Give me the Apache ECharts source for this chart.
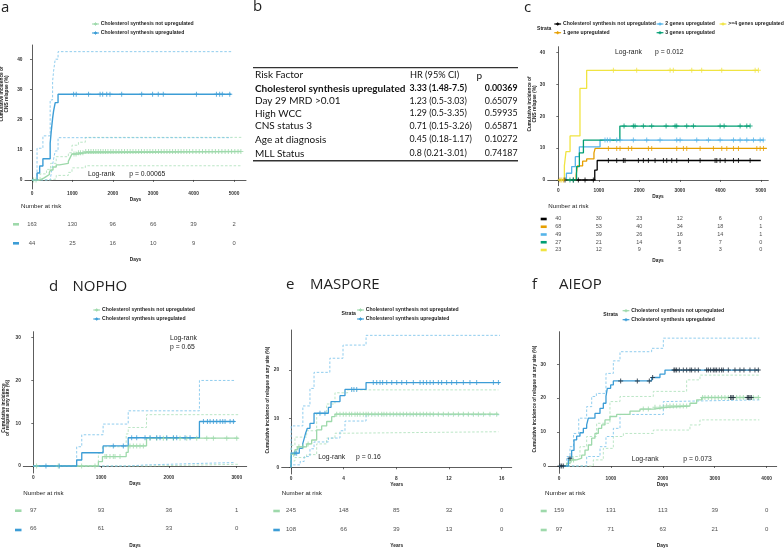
<!DOCTYPE html>
<html><head><meta charset="utf-8">
<script src="https://cdn.jsdelivr.net/npm/echarts@6/dist/echarts.min.js"></script>
<style>html,body{margin:0;padding:0;background:#fff}#c{width:784px;height:549px}</style>
</head><body><div id="c"></div>
<script>
// ---------------- DATA ----------------
// Panel a (days, cumulative incidence %)
const aNo   = [[0,0],[200,0.6],[290,1.2],[360,1.8],[430,2.5],[460,3.3],[520,4.3],[600,5.0],[680,5.5],[900,6.2],[930,7.0],[960,7.8],[990,8.6],[1150,9.0],[1320,9.4],[5180,9.4]];
const aNoHi = [[0,0],[200,2.0],[360,3.5],[460,5.5],[600,7.7],[900,9.0],[990,11.5],[1150,12.5],[1320,14.1],[5180,14.1]];
const aNoLo = [[0,0],[430,0.3],[600,1.5],[900,2.5],[990,4.0],[1320,4.7],[5180,4.7]];
const aUp   = [[0,0],[125,2.3],[190,4.6],[270,7.0],[450,12.2],[475,15.9],[510,20.4],[535,22.9],[575,25.6],[645,28.4],[4930,28.4]];
const aUpHi = [[0,0],[125,10.5],[270,14.6],[450,26.5],[510,32.6],[535,36.1],[575,40.0],[645,42.5],[4930,42.5]];
const aUpLo = [[0,0],[450,0.5],[475,2.0],[510,5.0],[535,7.0],[575,9.6],[645,14.0],[4930,14.0]];
const aNoCens = [40,100,1040,1090,1150,1200,1260,1330,1400,1460,1520,1580,1640,1700,1760,1820,1880,1950,2010,2080,2150,2220,2290,2360,2430,2500,2570,2640,2710,2780,2850,2920,2990,3060,3130,3200,3270,3340,3410,3480,3550,3620,3690,3760,3830,3900,3980,4060,4140,4220,4300,4380,4460,4540,4620,4700,4780,4860,4940,5020,5100,5170];
const aUpCens = [1030,1095,1400,1685,1750,1850,1930,2220,2715,2985,3125,3250,4070,4565,4645,4710,4895];
const aRiskTimes = [0,1000,2000,3000,4000,5000];
const aRiskNo = [163,130,96,66,39,2];
const aRiskUp = [44,25,16,10,9,0];

// Panel b (Cox model table)
const bFactors = ["Cholesterol synthesis upregulated","Day 29 MRD >0.01","High WCC","CNS status 3","Age at diagnosis","MLL Status"];
const bHR = ["3.33 (1.48-7.5)","1.23 (0.5-3.03)","1.29 (0.5-3.35)","0.71 (0.15-3.26)","0.45 (0.18-1.17)","0.8 (0.21-3.01)"];
const bP = ["0.00369","0.65079","0.59935","0.65871","0.10272","0.74187"];

// Panel c
const cNo = [[0,0],[900,3.1],[960,6.1],[5000,6.1]];
const c1  = [[0,0],[440,1.5],[470,4.4],[600,5.9],[700,6.6],[880,8.5],[910,9.9],[5150,9.9]];
const c2  = [[0,0],[200,2.1],[330,4.2],[420,7.3],[520,10.4],[1030,12.5],[5080,12.5]];
const c3  = [[0,0],[450,4.2],[520,8.5],[620,12.5],[1520,16.9],[4740,16.9]];
const c4  = [[0,0],[150,4.5],[190,8.9],[290,13.8],[535,28.7],[700,34.4],[4940,34.4]];
const cNoCens = [165,370,495,660,865,1236,1442,1606,1647,1977,2100,2224,2389,2595,2677,2801,2924,3213,3501,3871,3913,3995,4119,4325,4448,4736];
const c1Cens = [41,124,1236,1442,1524,1730,1812,2224,2306,2924,3089,3171,3501,3830,4036,4160,4325,4448,4901,4984,5066];
const c2Cens = [1153,1211,1277,1442,1524,1853,2183,2512,2924,3007,3418,3707,3995,4325,4489,4654,4819,4984,5060];
const c3Cens = [288,371,1623,1853,1895,2100,2306,2661,2883,2924,3171,3336,3995,4094,4489,4654,4736];
const c4Cens = [82,1360,1935,2760,2840,3295,3540,4035,4860,4940];
const cRiskTimes = [0,1000,2000,3000,4000,5000];
const cRiskNo = [40,30,23,12,6,0];
const cRisk1 = [68,53,40,34,18,1];
const cRisk2 = [49,39,26,16,14,1];
const cRisk3 = [27,21,14,9,7,0];
const cRisk4 = [23,12,9,5,3,0];

// Panel d NOPHO
const dNo   = [[0,0],[960,1.0],[1020,2.2],[1370,3.2],[1400,4.7],[1670,6.5],[3025,6.5]];
const dNoHi = [[0,0],[960,3.0],[1020,4.5],[1370,7.5],[1400,9.0],[1670,12.0],[3025,12.0]];
const dNoLo = [[0,0],[1670,0.4],[3025,0.4]];
const dUp   = [[0,0],[640,1.4],[715,3.1],[1030,4.7],[1400,6.6],[2450,10.4],[2975,10.4]];
const dUpHi = [[0,0],[640,4.5],[715,7.3],[1030,9.8],[1400,12.9],[2450,20.0],[2975,20.0]];
const dUpLo = [[0,0],[1400,0.25],[1660,0.6],[2450,0.8],[2975,0.8]];
const dNoCens = [49,369,713,910,1058,1082,1131,1180,1205,1279,1426,1476,1525,1574,1623,1722,1820,1918,1968,2066,2164,2263,2410,2558,2656,2853,3000];
const dUpCens = [187,384,1180,1328,1451,1525,1648,1722,1820,1869,1968,2066,2115,2238,2312,2509,2568,2607,2656,2705,2755,2794,2828,2902,2951];
const dRiskTimes = [0,1000,2000,3000];
const dRiskNo = [97,93,36,1];
const dRiskUp = [66,61,33,0];

// Panel e MASPORE (years)
const eNo   = [[0,0],[0.02,2.7],[0.3,3.6],[0.48,4.2],[1.19,4.8],[1.57,5.6],[1.95,7.7],[2.33,8.5],[2.71,9.4],[3.09,10.4],[3.34,10.9],[15.75,10.9]];
const eNoHi = [[0,0],[0.02,4.5],[0.3,6.2],[1.19,7.5],[1.95,11.0],[2.71,13.0],[3.34,15.3],[4.3,15.9],[15.75,15.9]];
const eNoLo = [[0,0],[0.02,1.3],[0.3,2.0],[1.19,2.6],[1.95,4.8],[2.71,6.0],[3.34,7.0],[4.3,7.3],[15.75,7.3]];
const eUp   = [[0,0],[0.02,2.9],[0.63,3.9],[0.89,4.8],[1.01,6.0],[1.11,7.0],[1.24,8.0],[1.44,9.0],[1.75,11.1],[2.84,12.3],[3.04,13.5],[3.72,14.7],[4.10,16.0],[5.70,17.4],[15.87,17.4]];
const eUpHi = [[0,0],[0.02,8.5],[0.9,12.6],[1.44,16.2],[1.75,19.5],[2.95,22.4],[3.95,25.1],[5.7,27.1],[15.87,27.1]];
const eUpLo = [[0,0],[0.02,0.5],[0.7,1.2],[1.0,2.2],[1.44,3.8],[1.75,5.2],[2.84,6.0],[3.72,7.5],[4.10,9.5],[5.70,10.8],[15.87,10.8]];
const eNoCens = [0.2,0.6,0.9,1.3,3.47,3.72,3.97,4.18,4.43,4.61,4.86,5.04,5.24,5.49,5.70,5.87,6.13,6.38,6.63,6.89,7.06,7.27,7.52,7.77,8.03,8.28,8.53,8.78,9.04,9.29,9.54,9.80,10.05,10.30,10.56,10.81,11.19,11.57,11.95,12.33,12.71,13.09,13.47,13.85,14.23,14.61,15.11,15.62];
const eUpCens = [0.30,0.43,2.20,2.58,4.61,4.78,4.99,6.25,6.51,6.76,6.96,7.27,7.65,8.03,8.41,8.78,9.29,9.80,10.05,10.30,10.56,10.81,11.19,11.44,11.82,12.20,12.58,13.09,13.59,14.10,15.37,15.75];
const eRiskTimes = [0,4,8,12,16];
const eRiskNo = [245,148,85,32,0];
const eRiskUp = [108,66,39,13,0];

// Panel f AIEOP
const fNo   = [[0,0],[148,0.8],[212,1.8],[340,2.3],[437,3.2],[501,4.7],[565,6.2],[629,8.2],[693,9.6],[758,11.1],[822,12.1],[886,13.6],[982,14.6],[1111,15.2],[1368,16.2],[1560,16.8],[1817,17.3],[2074,17.7],[2523,18.5],[2652,19.5],[2748,20.2],[3860,20.2]];
const fNoHi = [[0,0],[212,2.8],[404,5.7],[533,8.7],[725,12.6],[982,19.0],[1175,20.5],[1817,22.0],[2459,25.4],[2716,26.8],[3860,26.8]];
const fNoLo = [[0,0],[661,1.8],[854,5.2],[1047,8.7],[1240,9.6],[1817,10.6],[2523,12.1],[2716,13.6],[3860,13.6]];
const fUp   = [[0,0],[180,2.3],[244,4.6],[289,7.7],[340,8.8],[404,9.8],[469,11.1],[533,12.1],[565,14.1],[693,15.5],[790,17.0],[854,18.5],[905,20.5],[931,22.9],[995,23.9],[1047,25.1],[1785,26.1],[1945,27.1],[2042,28.3],[3860,28.3]];
const fUpHi = [[0,0],[148,2.8],[212,5.7],[280,9.6],[380,14.1],[533,17.5],[630,20.5],[720,21.4],[905,27.3],[1047,31.0],[1175,33.7],[1785,34.7],[2010,37.7],[3860,37.7]];
const fUpLo = [[0,0],[533,2.8],[790,5.7],[905,8.7],[1047,11.1],[1175,15.2],[2010,19.0],[2060,19.5],[3860,19.5]];
const fNoCens = [240,280,1624,1721,1849,1945,2010,2074,2138,2202,2266,2331,2395,2459,2767,2812,2876,2941,3005,3069,3133,3197,3262,3422,3486,3551,3743,3840];
const fNoCensDark = [3307,3332,3358,3628,3653,3679,3705];
const fUpCens = [19,51,83,212,1188,1509,1740,1804,2215,2234,2266,2318,2395,2459,2523,2555,2620,2684,2844,2876,2921,2973,3005,3037,3088,3133,3165,3262,3390,3486,3563,3679,3775,3840];
const fRiskTimes = [0,1000,2000,3000,4000];
const fRiskNo = [159,131,113,39,0];
const fRiskUp = [97,71,63,21,0];

// ---------------- STYLE ----------------
const FF = '"Liberation Sans", Arial, sans-serif';
const GREEN = '#9ed9ab', BLUE = '#3c9dd6', GREEN_CI = '#a9dfb7', BLUE_CI = '#74c0ea';
const CBLACK = '#000000', CORANGE = '#E69F00', CLBLUE = '#56B4E9', CGREEN = '#009E73', CYELLOW = '#F0E442';
const PLUS = 'path://M4,0H6V4H10V6H6V10H4V6H0V4H4Z';

const grid = [], xAxis = [], yAxis = [], series = [], graphic = [];

function valAt(curve, t) { let v = curve[0][1]; for (const p of curve) { if (p[0] <= t) v = p[1]; else break; } return v; }

function addPlot(g, xr, xt, yr, yt, xname) {
  const gi = grid.length;
  grid.push({ left: g[0], top: g[1], width: g[2], height: g[3] });
  const ax = { lineStyle: { color: '#333', width: 0.8 } };
  const lab = { fontSize: 4.8, fontWeight: 'bold', color: '#333', fontFamily: FF, margin: 2.5, formatter: v => String(v) };
  xAxis.push({ gridIndex: gi, type: 'value', min: xr[0], max: xr[1],
    axisLine: { show: true, ...ax }, splitLine: { show: false },
    axisTick: { show: true, length: 2, customValues: xt, lineStyle: { color: '#333', width: 0.7 } },
    axisLabel: { customValues: xt, ...lab },
    name: xname, nameLocation: 'middle', nameGap: 7, nameTextStyle: { fontSize: 4.8, fontWeight: 'bold', color: '#222', fontFamily: FF } });
  yAxis.push({ gridIndex: gi, type: 'value', min: yr[0], max: yr[1],
    axisLine: { show: true, ...ax }, splitLine: { show: false },
    axisTick: { show: true, length: 2, customValues: yt, lineStyle: { color: '#333', width: 0.7 } },
    axisLabel: { customValues: yt, ...lab } });
  return gi;
}
function stepLine(gi, data, color, dashed, width, z) {
  series.push({ type: 'line', xAxisIndex: gi, yAxisIndex: gi, data: data, step: 'end', symbol: 'none', silent: true,
    animation: false, z: z || 2, lineStyle: { color: color, width: width, type: dashed ? [2.5, 1.8] : 'solid' } });
}
function censors(gi, curve, times, color, size) {
  series.push({ type: 'scatter', xAxisIndex: gi, yAxisIndex: gi, symbol: PLUS, symbolSize: size || 5, silent: true, z: 4,
    itemStyle: { color: color }, data: times.map(t => [t, valAt(curve, t)]) });
}
function addRisk(g, xr, times, rows, xname, fs, nameGap) {
  const gi = grid.length;
  grid.push({ left: g[0], top: g[1], width: g[2], height: g[3] });
  xAxis.push({ gridIndex: gi, type: 'value', min: xr[0], max: xr[1], axisLine: { show: false }, axisTick: { show: false },
    axisLabel: { show: false }, splitLine: { show: false }, name: xname, nameLocation: 'middle', nameGap: nameGap,
    nameTextStyle: { fontSize: 4.8, fontWeight: 'bold', color: '#222', fontFamily: FF } });
  yAxis.push({ gridIndex: gi, type: 'value', min: -0.5, max: rows.length - 0.5, inverse: true, show: false });
  const data = [];
  rows.forEach((r, ri) => times.forEach((t, ti) => data.push([t, ri, r[ti]])));
  series.push({ type: 'scatter', xAxisIndex: gi, yAxisIndex: gi, symbol: 'circle', symbolSize: 1, silent: true,
    itemStyle: { color: 'rgba(0,0,0,0)' }, data: data,
    label: { show: true, position: 'inside', formatter: p => p.value[2], fontSize: fs, color: '#222', fontFamily: FF } });
}
function T(x, y, text, size, o) {
  o = o || {};
  graphic.push({ type: 'text', x: x, y: y, rotation: o.rot || 0, silent: true,
    style: { text: text, fontSize: size, fontFamily: o.ff || FF, fontWeight: o.fw || 'normal', fill: o.fill || '#222',
      textAlign: o.align || 'left', textVerticalAlign: 'middle', lineHeight: o.lh || size * 1.15 } });
}
function R(x, y, w, h, color) { graphic.push({ type: 'rect', silent: true, shape: { x: x, y: y - h / 2, width: w, height: h }, style: { fill: color } }); }
function L(x1, y1, x2, y2, color, w) { graphic.push({ type: 'line', silent: true, shape: { x1, y1, x2, y2 }, style: { stroke: color, lineWidth: w } }); }
function legItem(cx, y, color, text) {
  L(cx - 3.4, y, cx + 3.4, y, color, 1.2); L(cx - 1.5, y, cx + 1.5, y, color, 1.6); L(cx, y - 1.6, cx, y + 1.6, color, 1.0);
  T(cx + 5.3, y, text, 5.1, { fw: 'bold' });
}
const NOT = 'Cholesterol synthesis not upregulated', UP = 'Cholesterol synthesis upregulated';

// ---------------- PANEL a ----------------
let g = addPlot([25, 45, 221, 144], [-173, 5297], aRiskTimes, [-3, 44.7], [0, 10, 20, 30, 40], 'Days');
stepLine(g, aNoLo, GREEN_CI, true, 0.8); stepLine(g, aNoHi, GREEN_CI, true, 0.8);
stepLine(g, aUpLo, BLUE_CI, true, 0.8); stepLine(g, aUpHi, BLUE_CI, true, 0.8);
stepLine(g, aNo, GREEN, false, 1.4, 3); stepLine(g, aUp, BLUE, false, 1.4, 3);
censors(g, aNo, aNoCens, GREEN); censors(g, aUp, aUpCens, BLUE);
addRisk([25, 214.8, 221, 38], [-173, 5297], aRiskTimes, [aRiskNo, aRiskUp], 'Days', 5.8, 4.5);
T(1, 8, 'a', 15, { ff: '"Open Sans", sans-serif' });
legItem(95.5, 24, GREEN, NOT); legItem(95.5, 33, BLUE, UP);
T(4, 94, 'Cumulative incidence of\nCNS relapse (%)', 4.8, { rot: Math.PI / 2, align: 'center', fw: 'bold', lh: 4.6 });
T(88, 174, 'Log-rank', 6.8); T(129.3, 174, 'p = 0.00065', 6.8);
T(21, 206.7, 'Number at risk', 6.2);
R(13, 224.3, 6, 2.6, GREEN); R(13, 243.3, 6, 2.6, BLUE);

// ---------------- PANEL b ----------------
T(253, 7, 'b', 15, { ff: '"Open Sans", sans-serif' });
const TF = 'Lato, "Open Sans", sans-serif';
L(253, 67.7, 518, 67.7, '#333', 1.3); L(253, 160.7, 518, 160.7, '#333', 1.5);
const rowY = [88.3, 100.7, 113.3, 126, 139.5, 153.3];
const TS = 10, NS = 8.8;
T(255, 75, 'Risk Factor', TS, { ff: TF, fill: '#111' }); T(410, 75, 'HR (95% CI)', NS + 0.4, { ff: TF, fill: '#111' }); T(476.5, 76, 'p', TS, { ff: TF, fill: '#111' });
bFactors.forEach((f, i) => {
  const o = { ff: TF, fill: '#111', fw: i === 0 ? 'bold' : 'normal' };
  T(255, rowY[i], f, TS, o); T(409.5, rowY[i], bHR[i], NS, o); T(517.5, rowY[i], bP[i], NS, { ...o, align: 'right' });
});

// ---------------- PANEL c ----------------
g = addPlot([547.7, 46.7, 220.6, 139], [-262, 5185], cRiskTimes, [-1.8, 41.8], [0, 10, 20, 30, 40], 'Days');
stepLine(g, cNo, CBLACK, false, 1.3, 3); stepLine(g, c1, CORANGE, false, 1.3, 3); stepLine(g, c2, CLBLUE, false, 1.3, 3);
stepLine(g, c3, CGREEN, false, 1.3, 3); stepLine(g, c4, CYELLOW, false, 1.3, 3);
censors(g, cNo, cNoCens, CBLACK); censors(g, c1, c1Cens, CORANGE); censors(g, c2, c2Cens, CLBLUE);
censors(g, c3, c3Cens, CGREEN); censors(g, c4, c4Cens, CYELLOW);
addRisk([547.7, 215.1, 220.6, 38.75], [-262, 5185], cRiskTimes, [cRiskNo, cRisk1, cRisk2, cRisk3, cRisk4], 'Days', 5.5, 4.5);
T(524, 8, 'c', 15, { ff: '"Open Sans", sans-serif' });
T(537, 28.7, 'Strata', 5.1, { fw: 'bold' });
legItem(557.7, 24, CBLACK, NOT); legItem(660, 24, CLBLUE, '2 genes upregulated'); legItem(723, 24, CYELLOW, '>=4 genes upregulated');
legItem(557.7, 32.7, CORANGE, '1 gene upregulated'); legItem(660, 32.7, CGREEN, '3 genes upregulated');
T(532.5, 104, 'Cumulative incidence of\nCNS relapse (%)', 4.8, { rot: Math.PI / 2, align: 'center', fw: 'bold', lh: 4.8 });
T(615, 51.7, 'Log-rank', 6.8); T(655, 51.7, 'p = 0.012', 6.8);
T(548.3, 206.7, 'Number at risk', 6.2);
[CBLACK, CORANGE, CLBLUE, CGREEN, CYELLOW].forEach((c, i) => R(540.7, 219 + i * 7.75, 6, 2.6, c));

// ---------------- PANEL d ----------------
g = addPlot([23.3, 331.7, 223.4, 141.3], [-147, 3147], dRiskTimes, [-1.64, 31.4], [0, 10, 20, 30], 'Days');
stepLine(g, dNoLo, GREEN_CI, true, 0.8); stepLine(g, dNoHi, GREEN_CI, true, 0.8);
stepLine(g, dUpLo, BLUE_CI, true, 0.8); stepLine(g, dUpHi, BLUE_CI, true, 0.8);
stepLine(g, dNo, GREEN, false, 1.3, 3); stepLine(g, dUp, BLUE, false, 1.3, 3);
censors(g, dNo, dNoCens, GREEN); censors(g, dUp, dUpCens, BLUE);
addRisk([23.3, 501, 223.4, 38.6], [-147, 3147], dRiskTimes, [dRiskNo, dRiskUp], 'Days', 6, 5);
T(49, 287, 'd', 15, { ff: '"Open Sans", sans-serif' }); T(72.5, 287, 'NOPHO', 15, { ff: '"Open Sans", sans-serif' });
legItem(96.7, 310, GREEN, NOT); legItem(96.7, 319, BLUE, UP);
T(5.7, 408, 'Cumulative incidence\nof relapse at any site (%)', 4.8, { rot: Math.PI / 2, align: 'center', fw: 'bold', lh: 4.6 });
T(170, 337.7, 'Log-rank', 6.8); T(170, 346.7, 'p = 0.65', 6.8);
T(23.3, 493.3, 'Number at risk', 6.2);
R(15, 510.7, 6.5, 2.6, GREEN); R(15, 530, 6.5, 2.6, BLUE);

// ---------------- PANEL e ----------------
g = addPlot([281.7, 330, 230, 144], [-0.706, 16.76], eRiskTimes, [-1.38, 28.2], [0, 10, 20], 'Years');
stepLine(g, eNoLo, GREEN_CI, true, 0.8); stepLine(g, eNoHi, GREEN_CI, true, 0.8);
stepLine(g, eUpLo, BLUE_CI, true, 0.8); stepLine(g, eUpHi, BLUE_CI, true, 0.8);
stepLine(g, eNo, GREEN, false, 1.3, 3); stepLine(g, eUp, BLUE, false, 1.3, 3);
censors(g, eNo, eNoCens, GREEN); censors(g, eUp, eUpCens, BLUE);
addRisk([281.7, 501.5, 230, 38], [-0.706, 16.76], eRiskTimes, [eRiskNo, eRiskUp], 'Years', 6, 5);
T(286, 285, 'e', 15, { ff: '"Open Sans", sans-serif' }); T(310, 285, 'MASPORE', 15, { ff: '"Open Sans", sans-serif' });
T(341.5, 313.5, 'Strata', 5.1, { fw: 'bold' });
legItem(360.5, 310, GREEN, NOT); legItem(360.5, 319, BLUE, UP);
T(267.7, 400, 'Cumulative incidence of relapse at any site (%)', 4.8, { rot: Math.PI / 2, align: 'center', fw: 'bold' });
T(318.3, 457.3, 'Log-rank', 6.8); T(356, 457.3, 'p = 0.16', 6.8);
T(281.7, 493.3, 'Number at risk', 6.2);
R(273.3, 511, 6.5, 2.6, GREEN); R(273.3, 530, 6.5, 2.6, BLUE);

// ---------------- PANEL f ----------------
g = addPlot([548.3, 331.7, 228.4, 141.6], [-206, 4194], fRiskTimes, [-2.15, 39.6], [0, 10, 20, 30], 'Days');
stepLine(g, fNoLo, GREEN_CI, true, 0.8); stepLine(g, fNoHi, GREEN_CI, true, 0.8);
stepLine(g, fUpLo, BLUE_CI, true, 0.8); stepLine(g, fUpHi, BLUE_CI, true, 0.8);
stepLine(g, fNo, GREEN, false, 1.3, 3); stepLine(g, fUp, BLUE, false, 1.3, 3);
censors(g, fNo, fNoCens, GREEN); censors(g, fNo, fNoCensDark, '#1d2b3a'); censors(g, fUp, fUpCens, '#1d2b3a');
addRisk([548.3, 501.5, 228.4, 38], [-206, 4194], fRiskTimes, [fRiskNo, fRiskUp], 'Days', 6, 5);
T(532, 285, 'f', 15, { ff: '"Open Sans", sans-serif' }); T(559, 285, 'AIEOP', 15, { ff: '"Open Sans", sans-serif' });
T(603.3, 315, 'Strata', 5.1, { fw: 'bold' });
legItem(626, 310.7, GREEN, NOT); legItem(626, 319.7, BLUE, UP);
T(535, 399, 'Cumulative incidence of relapse at any site (%)', 4.8, { rot: Math.PI / 2, align: 'center', fw: 'bold' });
T(631.7, 459.3, 'Log-rank', 6.8); T(683.3, 459.3, 'p = 0.073', 6.8);
T(545, 493.3, 'Number at risk', 6.2);
R(540.7, 511, 6, 2.6, GREEN); R(540.7, 530, 6, 2.6, GREEN);

const chart = echarts.init(document.getElementById('c'), null, { renderer: 'canvas' });
chart.setOption({ animation: false, backgroundColor: '#fff', grid, xAxis, yAxis, series, graphic });
</script></body></html>
